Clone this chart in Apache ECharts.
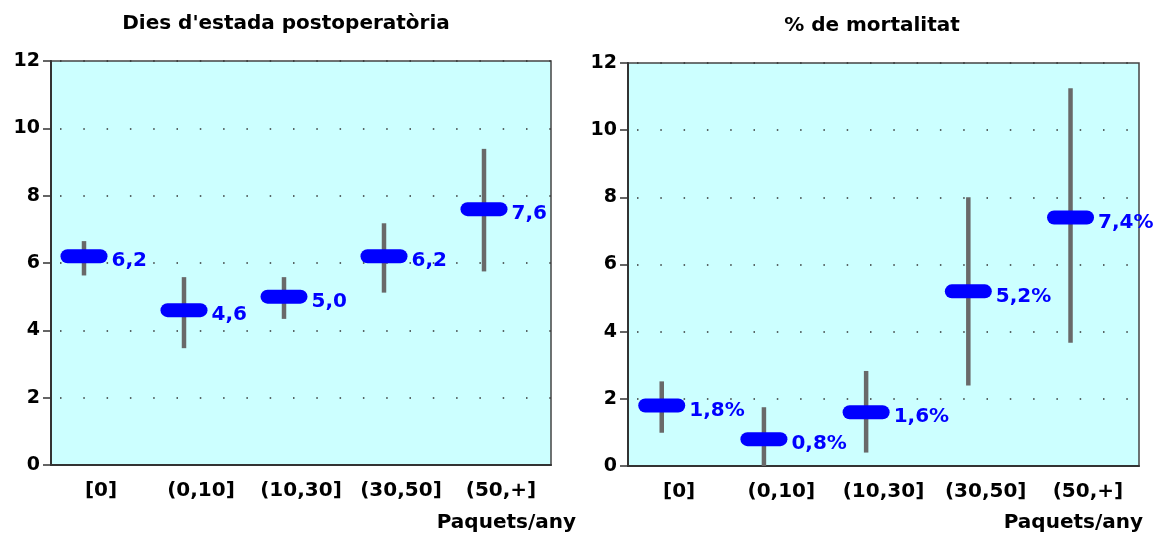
<!DOCTYPE html>
<html>
<head>
<meta charset="utf-8">
<script src="https://cdn.jsdelivr.net/npm/echarts@6/dist/echarts.min.js"></script>
<style>
  html, body { margin: 0; padding: 0; background: #ffffff; }
  #chart { width: 1163px; height: 533px; }
</style>
</head>
<body>
<div id="chart"></div>
<script>
// Smoking categories (packs/year)
var categories = ['[0]', '(0,10]', '(10,30]', '(30,50]', '(50,+]'];

// Postoperative length of stay (days): mean and confidence interval
var stayMean = [6.2, 4.6, 5.0, 6.2, 7.6];
var stayLow  = [5.63, 3.47, 4.34, 5.12, 5.75];
var stayHigh = [6.65, 5.58, 5.58, 7.18, 9.39];

// Mortality (%): mean and confidence interval
var mortMean = [1.8, 0.8, 1.6, 5.2, 7.4];
var mortLow  = [0.99, 0.0, 0.40, 2.40, 3.67];
var mortHigh = [2.52, 1.75, 2.83, 8.0, 11.25];

// Value axis ticks
var yMin = 0, yMax = 12, yStep = 2;

var FONT = '"DejaVu Sans", Verdana, sans-serif';

function toRows(mean, low, high) {
  return mean.map(function (m, i) { return [i, m, low[i], high[i]]; });
}

function fmt(v, suffix) {
  return v.toFixed(1).replace('.', ',') + suffix;
}

function makeRenderer(suffix) {
  return function (params, api) {
    var i = api.value(0);
    var mean = api.value(1);
    var lo = api.value(2);
    var hi = api.value(3);
    var c = api.coord([i, mean]);
    var band = api.size([1, 0])[0];
    var cx = c[0] - 0.17 * band;
    var yLo = api.coord([i, lo])[1];
    var yHi = api.coord([i, hi])[1];
    var capW = 47, capH = 14, barW = 4.5;
    return {
      type: 'group',
      children: [
        {
          type: 'rect',
          shape: { x: cx - barW / 2, y: yHi, width: barW, height: yLo - yHi },
          style: { fill: '#696969' }
        },
        {
          type: 'rect',
          shape: { x: cx - capW / 2, y: c[1] - capH / 2, width: capW, height: capH, r: capH / 2 },
          style: { fill: '#0000FF' }
        },
        {
          type: 'text',
          x: cx + capW / 2 + 4,
          y: c[1] + 5,
          style: {
            text: fmt(mean, suffix),
            fill: '#0000FF',
            font: 'bold 20px ' + FONT,
            textAlign: 'left',
            textVerticalAlign: 'middle'
          }
        }
      ]
    };
  };
}

var grids = [
  { left: 51, top: 61, width: 500, height: 404 },
  { left: 628, top: 63, width: 511, height: 403 }
];

var option = {
  animation: false,
  backgroundColor: '#ffffff',
  grid: grids.map(function (g) {
    return {
      left: g.left, top: g.top, width: g.width, height: g.height,
      show: true, backgroundColor: '#CCFFFF',
      borderColor: '#444444', borderWidth: 1.5
    };
  }),
  graphic: [
    { type: 'text', x: 286, y: 24, style: { text: "Dies d'estada postoperatòria", font: 'bold 20px ' + FONT, fill: '#000', textAlign: 'center', textVerticalAlign: 'middle' } },
    { type: 'text', x: 872, y: 26, style: { text: '% de mortalitat', font: 'bold 20px ' + FONT, fill: '#000', textAlign: 'center', textVerticalAlign: 'middle' } },
    { type: 'text', x: 576, y: 523, style: { text: 'Paquets/any', font: 'bold 20px ' + FONT, fill: '#000', textAlign: 'right', textVerticalAlign: 'middle' } },
    { type: 'text', x: 1143, y: 523, style: { text: 'Paquets/any', font: 'bold 20px ' + FONT, fill: '#000', textAlign: 'right', textVerticalAlign: 'middle' } }
  ],
  xAxis: [0, 1].map(function (gi) {
    return {
      type: 'category', gridIndex: gi, data: categories, position: 'bottom',
      axisLine: { lineStyle: { color: '#333333', width: 2 } },
      axisTick: { alignWithLabel: true, length: 6, lineStyle: { color: '#333333', width: 1.5 } },
      axisLabel: { interval: 0, color: '#000', fontFamily: FONT, fontWeight: 'bold', fontSize: 20, margin: 16 },
      splitLine: { show: false }
    };
  }),
  yAxis: [0, 1].map(function (gi) {
    return {
      type: 'value', gridIndex: gi, min: yMin, max: yMax, interval: yStep,
      axisLine: { show: true, lineStyle: { color: '#333333', width: 2 } },
      axisTick: { show: true, length: 8, lineStyle: { color: '#333333', width: 1.5 } },
      axisLabel: { color: '#000', fontFamily: FONT, fontWeight: 'bold', fontSize: 19, margin: 11 },
      splitLine: { show: true, lineStyle: { color: '#333333', width: 1.5, type: [1.5, 21.8], dashOffset: -9 } }
    };
  }),
  series: [
    {
      type: 'custom', xAxisIndex: 0, yAxisIndex: 0,
      renderItem: makeRenderer(''),
      encode: { x: 0, y: [1, 2, 3] },
      data: toRows(stayMean, stayLow, stayHigh)
    },
    {
      type: 'custom', xAxisIndex: 1, yAxisIndex: 1,
      renderItem: makeRenderer('%'),
      encode: { x: 0, y: [1, 2, 3] },
      data: toRows(mortMean, mortLow, mortHigh)
    }
  ]
};

var chart = echarts.init(document.getElementById('chart'), null, { renderer: 'canvas' });
chart.setOption(option);
</script>
</body>
</html>
